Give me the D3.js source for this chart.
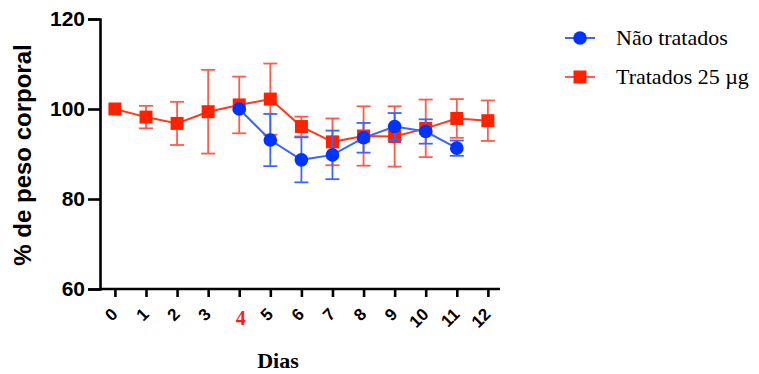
<!DOCTYPE html>
<html>
<head>
<meta charset="utf-8">
<script src="https://cdn.jsdelivr.net/npm/d3@7"></script>
<style>
  body { margin: 0; background: #fff; }
</style>
</head>
<body>
<div id="chart"></div>
<script>
// Data
var days = [0, 1, 2, 3, 4, 5, 6, 7, 8, 9, 10, 11, 12];
var tickLabels = ["0", "1", "2", "3", "4", "5", "6", "7", "8", "9", "10", "11", "12"];
var treatedMean = [100, 98.2, 96.8, 99.4, 100.9, 102.2, 96.1, 92.7, 94.0, 93.9, 95.7, 97.9, 97.4];
var treatedErr = [0, 2.5, 4.8, 9.3, 6.3, 7.9, 2.2, 5.2, 6.6, 6.7, 6.4, 4.3, 4.5];
var untreatedDays = [4, 5, 6, 7, 8, 9, 10, 11];
var untreatedMean = [100, 93.1, 88.7, 89.8, 93.6, 96.1, 95.0, 91.3];
var untreatedErr = [0, 5.8, 5.0, 5.4, 3.3, 3.0, 2.7, 1.7];
var yTicks = [60, 80, 100, 120];
var seriesNames = ["Não tratados", "Tratados 25 µg"];

var svgWidth = 759, svgHeight = 374;
var margin = { top: 19, left: 100 };
var width = 400, height = 270;
var sans = "'Liberation Sans', Arial, sans-serif";
var serif = "'Liberation Serif', 'Times New Roman', serif";

var svg = d3.select("#chart").append("svg")
  .attr("width", svgWidth)
  .attr("height", svgHeight);

var chartGroup = svg.append("g")
  .attr("transform", `translate(${margin.left}, ${margin.top})`);

var x = d3.scaleLinear().domain([-0.48, 12.39]).range([0, width]);
var y = d3.scaleLinear().domain([60, 120]).range([height, 0]);

// y axis
var yAxis = chartGroup.append("g")
  .call(d3.axisLeft(y).tickValues(yTicks).tickSize(12).tickPadding(3));
yAxis.attr("font-size", 21).attr("font-family", sans).attr("font-weight", "bold");
yAxis.select(".domain").attr("stroke-width", 2.6);
yAxis.selectAll(".tick line").attr("stroke-width", 2.6);

// x axis
var xAxis = chartGroup.append("g")
  .attr("transform", `translate(0, ${height})`)
  .call(d3.axisBottom(x).tickValues(days).tickSize(8).tickFormat((d, i) => tickLabels[i]));
xAxis.attr("font-size", 17).attr("font-family", sans).attr("font-weight", "bold");
xAxis.select(".domain").attr("stroke-width", 2.6).attr("d", `M0,0H${width}`);
xAxis.selectAll(".tick line").attr("stroke-width", 2.6);
xAxis.selectAll(".tick text")
  .attr("y", 0).attr("dy", 0)
  .attr("text-anchor", "end")
  .attr("dominant-baseline", "central")
  .attr("transform", "translate(-0.5,22.5) rotate(-45)");
// day 4 label is red, serif, upright
xAxis.selectAll(".tick text").filter(d => d === 4)
  .attr("text-anchor", "middle")
  .attr("dominant-baseline", "auto")
  .attr("transform", "translate(1,36)")
  .attr("fill", "#ff1a1a")
  .attr("font-family", serif)
  .attr("font-size", 20);

// series builder
function drawSeries(xs, means, errs, lineColor, barColor, markColor, shape) {
  var g = chartGroup.append("g");
  var pts = xs.map((d, i) => ({ d: d, m: means[i], e: errs[i] }));
  g.append("path").datum(pts)
    .attr("fill", "none").attr("stroke", lineColor).attr("stroke-width", 2)
    .attr("d", d3.line().x(p => x(p.d)).y(p => y(p.m)));
  var bars = g.selectAll(".err").data(pts.filter(p => p.e > 0)).enter().append("g");
  bars.append("line")
    .attr("x1", p => x(p.d)).attr("x2", p => x(p.d))
    .attr("y1", p => y(p.m + p.e)).attr("y2", p => y(p.m - p.e))
    .attr("stroke", barColor).attr("stroke-width", 1.8);
  [1, -1].forEach(function(s) {
    bars.append("line")
      .attr("x1", p => x(p.d) - 7).attr("x2", p => x(p.d) + 7)
      .attr("y1", p => y(p.m + s * p.e)).attr("y2", p => y(p.m + s * p.e))
      .attr("stroke", barColor).attr("stroke-width", 1.8);
  });
  if (shape === "square") {
    g.selectAll("rect").data(pts).enter().append("rect")
      .attr("x", p => x(p.d) - 6.5).attr("y", p => y(p.m) - 6.5)
      .attr("width", 13).attr("height", 13).attr("fill", markColor);
  } else {
    g.selectAll("circle").data(pts).enter().append("circle")
      .attr("cx", p => x(p.d)).attr("cy", p => y(p.m))
      .attr("r", 6.8).attr("fill", markColor);
  }
}

drawSeries(days, treatedMean, treatedErr, "#ff3b1f", "#ff5a4a", "#ff2200", "square");
drawSeries(untreatedDays, untreatedMean, untreatedErr, "#3a66ff", "#3a66ff", "#0033ff", "circle");

// axis titles
svg.append("text")
  .attr("transform", "translate(31, 155) rotate(-90)")
  .attr("text-anchor", "middle")
  .style("font-family", sans)
  .style("font-weight", "bold").style("font-size", "24px")
  .text("% de peso corporal");

svg.append("text")
  .attr("x", 278).attr("y", 368)
  .attr("text-anchor", "middle")
  .style("font-family", serif)
  .style("font-weight", "bold").style("font-size", "22px")
  .text("Dias");

// legend
var legend = svg.append("g");
var legendColors = [["#3a66ff", "#0033ff", "circle"], ["#ff5a4a", "#ff2200", "square"]];
seriesNames.forEach(function(name, i) {
  var ly = 38 + i * 39;
  legend.append("line").attr("x1", 565).attr("x2", 595).attr("y1", ly).attr("y2", ly)
    .attr("stroke", legendColors[i][0]).attr("stroke-width", 2);
  if (legendColors[i][2] === "circle") {
    legend.append("circle").attr("cx", 580).attr("cy", ly).attr("r", 6.8).attr("fill", legendColors[i][1]);
  } else {
    legend.append("rect").attr("x", 573.5).attr("y", ly - 6.5).attr("width", 13).attr("height", 13)
      .attr("fill", legendColors[i][1]);
  }
  legend.append("text").attr("x", 616).attr("y", ly + 7)
    .style("font-family", serif)
    .style("font-size", "22px")
    .text(name);
});
</script>
</body>
</html>
